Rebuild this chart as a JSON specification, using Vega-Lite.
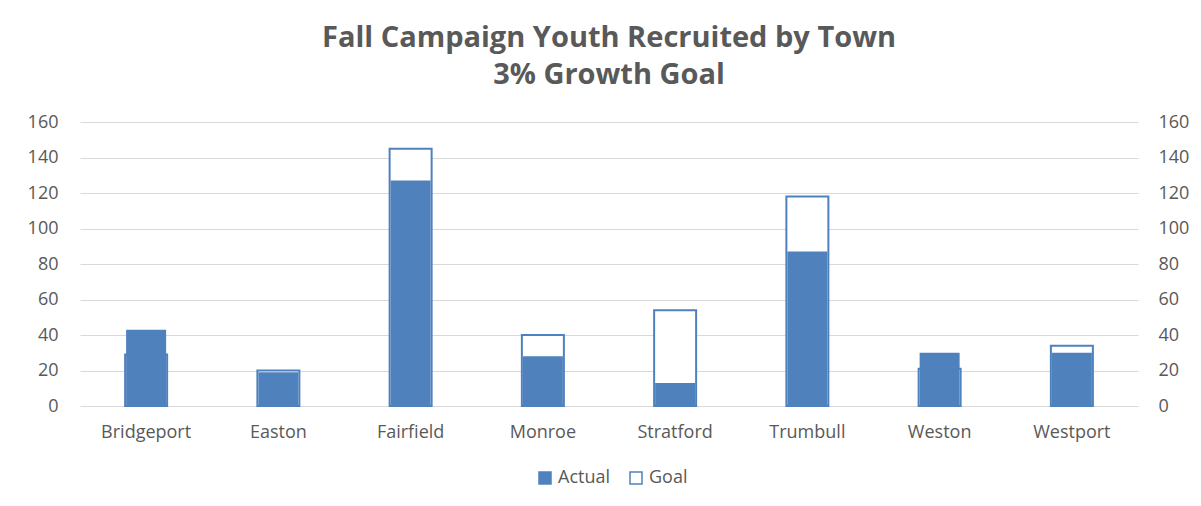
{
  "$schema": "https://vega.github.io/schema/vega-lite/v6.json",
  "autosize": "none",
  "width": 1058,
  "height": 284,
  "padding": {"left": 80, "top": 122, "right": 63, "bottom": 100},
  "background": "white",
  "title": {
    "text": ["Fall Campaign Youth Recruited by Town", "3% Growth Goal"],
    "font": "Open Sans",
    "fontSize": 29,
    "fontWeight": "bold",
    "color": "#595959",
    "lineHeight": 37,
    "anchor": "middle",
    "offset": 23
  },
  "data": {
    "values": [
      {"town": "Bridgeport", "series": "Actual", "value": 43},
      {"town": "Bridgeport", "series": "Goal", "value": 29},
      {"town": "Easton", "series": "Actual", "value": 19},
      {"town": "Easton", "series": "Goal", "value": 20},
      {"town": "Fairfield", "series": "Actual", "value": 127},
      {"town": "Fairfield", "series": "Goal", "value": 145},
      {"town": "Monroe", "series": "Actual", "value": 28},
      {"town": "Monroe", "series": "Goal", "value": 40},
      {"town": "Stratford", "series": "Actual", "value": 13},
      {"town": "Stratford", "series": "Goal", "value": 54},
      {"town": "Trumbull", "series": "Actual", "value": 87},
      {"town": "Trumbull", "series": "Goal", "value": 118},
      {"town": "Weston", "series": "Actual", "value": 30},
      {"town": "Weston", "series": "Goal", "value": 21},
      {"town": "Westport", "series": "Actual", "value": 30},
      {"town": "Westport", "series": "Goal", "value": 34}
    ]
  },
  "encoding": {
    "x": {
      "field": "town",
      "type": "nominal",
      "sort": null,
      "axis": {
        "title": null,
        "labelAngle": 0,
        "labelFont": "Open Sans",
        "labelFontSize": 18,
        "labelColor": "#595959",
        "labelPadding": 17,
        "ticks": false,
        "domain": false,
        "grid": false
      }
    },
    "fill": {
      "field": "series",
      "type": "nominal",
      "scale": {"domain": ["Actual", "Goal"], "range": ["#4F81BD", "#FFFFFF"]},
      "legend": {
        "title": null,
        "orient": "none",
        "legendX": 456,
        "legendY": 347,
        "direction": "horizontal",
        "symbolType": "square",
        "symbolSize": 144,
        "symbolStrokeColor": "#4F81BD",
        "symbolStrokeWidth": 1.5,
        "labelFont": "Open Sans",
        "labelFontSize": 18,
        "labelColor": "#595959",
        "columnPadding": 16,
        "labelOffset": 4
      }
    }
  },
  "layer": [
    {
      "transform": [{"filter": "datum.series === 'Goal'"}],
      "mark": {"type": "bar", "size": 42, "stroke": "#4F81BD", "strokeWidth": 2},
      "encoding": {
        "y": {
          "field": "value",
          "type": "quantitative",
          "scale": {"domain": [0, 160]},
          "axis": {
            "title": null,
            "orient": "left",
            "values": [0, 20, 40, 60, 80, 100, 120, 140, 160],
            "labelFont": "Open Sans",
            "labelFontSize": 18,
            "labelColor": "#595959",
            "labelPadding": 22,
            "ticks": false,
            "domain": false,
            "gridColor": "#D9D9D9",
            "gridWidth": 1
          }
        }
      }
    },
    {
      "transform": [{"filter": "datum.series === 'Actual'"}],
      "mark": {"type": "bar", "size": 40},
      "encoding": {
        "y": {
          "field": "value",
          "type": "quantitative",
          "scale": {"domain": [0, 160]},
          "axis": {
            "title": null,
            "orient": "right",
            "values": [0, 20, 40, 60, 80, 100, 120, 140, 160],
            "labelFont": "Open Sans",
            "labelFontSize": 18,
            "labelColor": "#595959",
            "labelPadding": 20,
            "ticks": false,
            "domain": false,
            "grid": false
          }
        }
      }
    }
  ],
  "resolve": {"axis": {"y": "independent"}},
  "config": {"view": {"stroke": null}}
}
